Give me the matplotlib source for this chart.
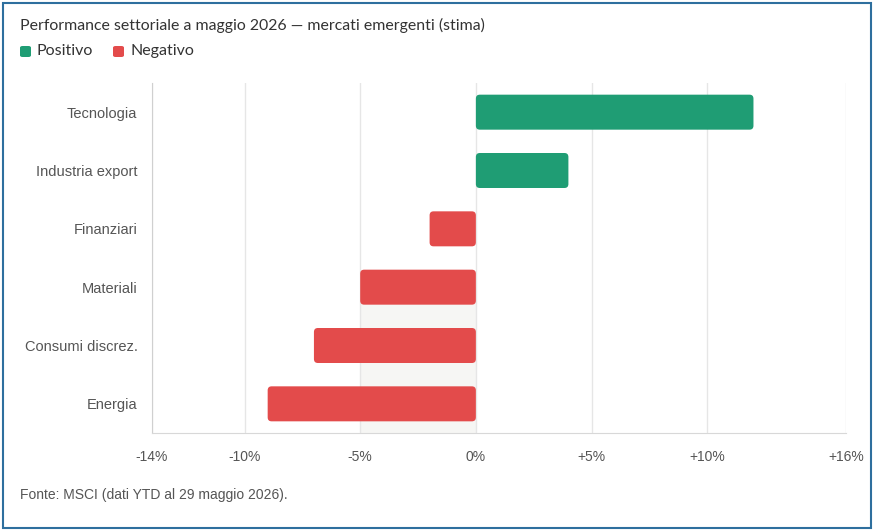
import matplotlib.pyplot as plt
from matplotlib.patches import FancyBboxPatch, Rectangle

sectors = ['Tecnologia', 'Industria export', 'Finanziari', 'Materiali', 'Consumi discrez.', 'Energia']
values = [12, 4, -2, -5, -7, -9]
xticks = [-14, -10, -5, 0, 5, 10, 16]
xtick_labels = ['-14%', '-10%', '-5%', '0%', '+5%', '+10%', '+16%']

green = '#1f9d74'
red = '#e34b4b'
grid_col = '#e6e6e6'
label_col = '#555555'

fig = plt.figure(figsize=(8.74, 5.31), dpi=100)
ax = fig.add_axes([152 / 874, 1 - 433 / 531, (846 - 152) / 874, (433 - 83) / 531])

n = len(sectors)
ypos = [n - 1 - i for i in range(n)]
ax.set_xlim(xticks[0], xticks[-1])
ax.set_ylim(-0.5, n - 0.5)

# light band behind the lower negative bars
ax.add_patch(Rectangle((-5, -0.5), 5, ypos[3] + 0.5, facecolor='#f6f6f4', edgecolor='none', zorder=0))

for x in xticks:
    ax.axvline(x, color=grid_col, linewidth=1.0, zorder=0.5)

bh = 0.6
for y, v in zip(ypos, values):
    col = green if v >= 0 else red
    x0 = min(0, v)
    ax.add_patch(FancyBboxPatch((x0, y - bh / 2), abs(v), bh,
                                boxstyle='round,pad=0,rounding_size=0.17',
                                mutation_aspect=0.4,
                                facecolor=col, edgecolor='none', zorder=2))

ax.set_yticks(ypos)
ax.set_yticklabels(sectors, fontsize=10.5, color=label_col, family=['Liberation Sans', 'DejaVu Sans'])
ax.set_xticks(xticks)
ax.set_xticklabels(xtick_labels, fontsize=10, color=label_col, family=['Liberation Sans Narrow', 'Liberation Sans', 'DejaVu Sans'])
ax.tick_params(axis='y', length=0, pad=10.5)
ax.tick_params(axis='x', length=0, pad=12)

for s in ['top', 'right']:
    ax.spines[s].set_visible(False)
ax.spines['left'].set_color('#d0d0d0')
ax.spines['bottom'].set_color('#d8d8d8')

fig.text(20 / 874, 1 - 25 / 531, 'Performance settoriale a maggio 2026 \u2014 mercati emergenti (stima)',
         fontsize=11.45, color='#333333', va='center', ha='left', family=['Lato', 'DejaVu Sans'])

# legend
fig.patches.append(FancyBboxPatch((20 / 874, 1 - 57 / 531), 11 / 874, 11 / 531,
                                  boxstyle='round,pad=0,rounding_size=0.003',
                                  transform=fig.transFigure, facecolor=green, edgecolor='none'))
fig.text(37 / 874, 1 - 51 / 531, 'Positivo', fontsize=11.5, color='#333333', va='center', family=['Lato', 'DejaVu Sans'])
fig.patches.append(FancyBboxPatch((113 / 874, 1 - 57 / 531), 11 / 874, 11 / 531,
                                  boxstyle='round,pad=0,rounding_size=0.003',
                                  transform=fig.transFigure, facecolor=red, edgecolor='none'))
fig.text(130 / 874, 1 - 51 / 531, 'Negativo', fontsize=11.5, color='#333333', va='center', family=['Lato', 'DejaVu Sans'])

fig.text(20 / 874, 1 - 495 / 531, 'Fonte: MSCI (dati YTD al 29 maggio 2026).', fontsize=10, color='#555555',
         va='center', family=['Liberation Sans Narrow', 'Liberation Sans', 'DejaVu Sans'])

# outer frame
fig.patches.append(Rectangle((3 / 874, 3 / 531), 868 / 874, 525 / 531, transform=fig.transFigure,
                             fill=False, edgecolor='#2e6f9e', linewidth=1.5))

fig.savefig('out.png', dpi=100)
